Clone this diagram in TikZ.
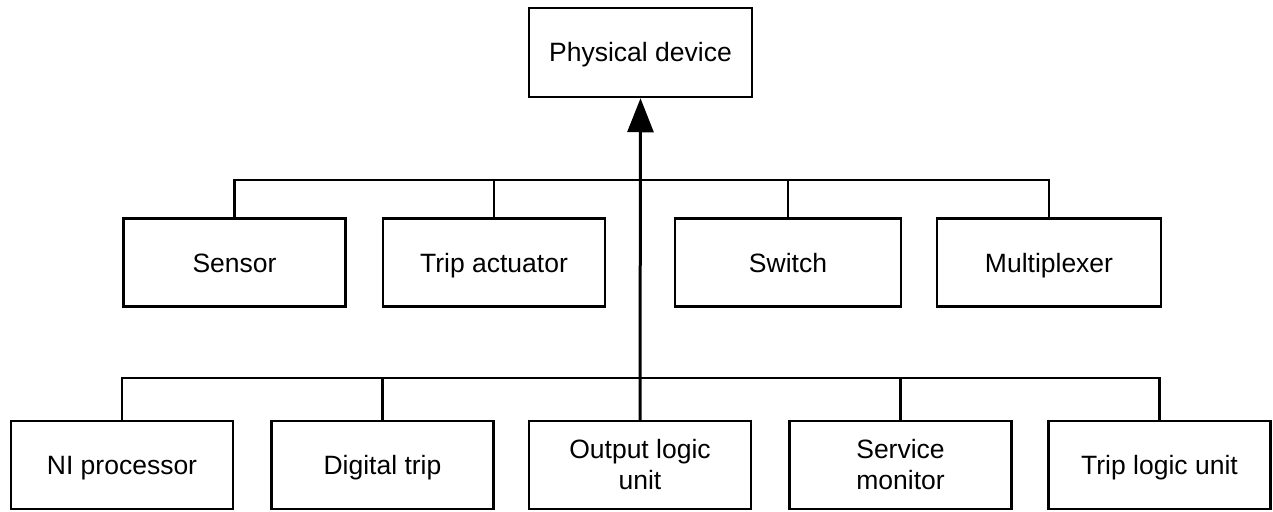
\documentclass[tikz,border=0pt]{standalone}
\usepackage{fontspec}
\setmainfont{Liberation Sans}
\usetikzlibrary{arrows.meta}

\begin{document}
\begin{tikzpicture}[x=1pt,y=-1pt,
  unitbox/.style={draw, line width=2.5pt, minimum width=222pt, minimum height=88pt,
    inner sep=0pt, align=center, font=\fontsize{26.5}{31}\selectfont},
  oneline/.style={unitbox, text height=19pt, text depth=0pt},
  link/.style={line width=2.5pt},
  uplink/.style={line width=3pt, -{Triangle[width=26pt,length=34pt]}}]
  \useasboundingbox (0,0) rectangle (1273,511);

  % top level
  \node[oneline, minimum width=223pt, minimum height=89pt] (phys) at (640.5,52.5) {Physical device};

  % middle row
  \node[oneline] (sensor) at (234.5,262.5) {Sensor};
  \node[oneline] (tripact) at (494,262.5) {Trip actuator};
  \node[oneline, minimum width=226pt] (switch) at (788,262.5) {Switch};
  \node[oneline, minimum width=224pt] (mux) at (1049,262.5) {Multiplexer};

  % bottom row
  \node[oneline] (ni) at (122,465) {NI processor};
  \node[oneline] (digtrip) at (382.5,465) {Digital trip};
  \node[unitbox] (outlogic) at (640,465) {Output logic\\unit};
  \node[unitbox] (service) at (900.5,465) {Service\\monitor};
  \node[oneline] (triplogic) at (1159.5,465) {Trip logic unit};

  % bus lines
  \coordinate (busA) at (0,180);
  \coordinate (busB) at (0,378);

  \draw[link] (sensor.north) |- (mux.north |- busA) -- (mux.north);
  \draw[link] (tripact.north) -- (tripact.north |- busA);
  \draw[link] (switch.north) -- (switch.north |- busA);

  \draw[link] (ni.north) |- (triplogic.north |- busB) -- (triplogic.north);
  \draw[link] (digtrip.north) -- (digtrip.north |- busB);
  \draw[link] (service.north) -- (service.north |- busB);

  % inheritance arrow up to the physical device
  \draw[uplink] (outlogic.north) -- (phys.south);
\end{tikzpicture}
\end{document}
